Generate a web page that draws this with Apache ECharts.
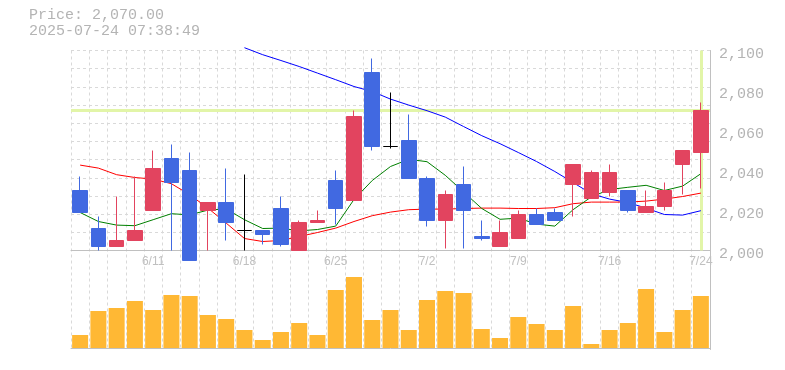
<!DOCTYPE html>
<html>
<head>
<meta charset="utf-8">
<script src="https://cdn.jsdelivr.net/npm/echarts@6/dist/echarts.min.js"></script>
<style>
html,body{margin:0;padding:0;background:#fff;}
#c{width:785px;height:370px;}
</style>
</head>
<body>
<div id="c"></div>
<script>
// ---- data ----
const dates = ['6/5','6/6','6/9','6/10','6/11','6/12','6/13','6/16','6/17','6/18','6/19','6/20','6/23','6/24','6/25','6/26','6/27','6/30',
  '7/1','7/2','7/3','7/4','7/7','7/8','7/9','7/10','7/11','7/14','7/15','7/16','7/17','7/18','7/22','7/23','7/24'];
const xTickLabels = ['6/11','6/18','6/25','7/2','7/9','7/16','7/24'];
const priceTicks = [2000, 2020, 2040, 2060, 2080, 2100];

const openP  = [2030,2011,2002,2005,2020,2046,2040,2020,2024,2010,2010,2021,2000,2014,2035,2025,2089,2052,2055,2036,2015,2033,2007,2002,2006,2018,2019,2033,2026,2029,2030,2019,2022,2043,2049];
const closeP = [2019,2002,2005,2010,2041,2034,1995,2024,2014,2010,2008,2003,2014,2015,2021,2067,2052,2052,2036,2015,2028,2020,2006,2009,2018,2013,2015,2043,2039,2039,2020,2022,2030,2050,2070];
const lowP   = [2019,2000,2002,2005,2020,2000,1995,2000,2005,2000,2003,2002,2000,2014,2013,2025,2050,2051,2036,2012,2001,2001,2005,2002,2006,2013,2015,2017,2026,2027,2019,2019,2020,2028,2031];
const highP  = [2037,2017,2027,2037,2050,2053,2049,2024,2041,2038,2010,2027,2015,2020,2040,2070,2096,2079,2068,2037,2030,2042,2015,2015,2020,2021,2021,2043,2040,2043,2030,2030,2034,2050,2074];

const maGreen = [2019.0,2014.5,2012.7,2012.4,2015.4,2018.4,2017.8,2020.2,2020.8,2015.4,2011.0,2011.2,2009.8,2010.5,2012.2,2025.5,2035.0,2042.0,2045.6,2044.4,
  2037.6,2029.3,2021.0,2015.6,2016.2,2013.2,2012.2,2020.4,2026.8,2030.5,2031.6,2032.6,2030.0,2032.2,2038.4];
const maRed = [2042.7,2041.2,2037.9,2036.5,2035.7,2033.4,2027.9,2021.2,2013.7,2006.0,2004.5,2005.0,2007.0,2009.0,2011.2,2014.5,2017.4,2019.2,2020.4,2020.7,
  2020.7,2021.0,2021.2,2021.2,2021.0,2021.0,2021.4,2023.4,2024.2,2024.2,2024.2,2024.7,2025.7,2027.0,2028.7];
const maBlue = [null,null,null,null,null,null,null,null,null,2101.4,2097.9,2095.0,2092.0,2088.7,2085.4,2082.0,2079.5,2075.7,2072.7,2069.9,
  2066.7,2062.0,2057.4,2053.4,2049.0,2044.5,2039.5,2034.0,2028.4,2025.7,2024.0,2021.2,2018.0,2017.7,2019.9];

const volume = [13000,37000,40000,47000,38000,53000,52000,33000,29000,18000,8000,16000,25000,13000,58000,71000,28000,38000,18000,48000,
  57000,55000,19000,10000,31000,24000,18000,42000,4000,18000,25000,59000,16000,38000,52000];

const lastPrice = 2070;
const lastDate = '7/24';

// ---- chart ----
const candleData = dates.map((d, i) => [openP[i], closeP[i], lowP[i], highP[i]]);
const UP = '#e2445f', DOWN = '#4169e1';
const dash = {type: [3, 3], color: '#d9d9d9', width: 1};
const L = 71, R = 75;

const chart = echarts.init(document.getElementById('c'), null, {renderer: 'canvas'});
chart.setOption({
  animation: false,
  backgroundColor: '#fff',
  title: {
    left: 29, top: 7, padding: 0,
    text: 'Price: 2,070.00\n2025-07-24 07:38:49',
    textStyle: {fontFamily: 'Liberation Mono', fontSize: 15, fontWeight: 'normal', color: '#b4b4b4', lineHeight: 16}
  },
  grid: [
    {left: L, right: R, top: 50.5, bottom: 20.5},
    {left: L, right: R, top: 50.5, height: 200},
    {left: L, right: R, top: 270, bottom: 20.5}
  ],
  xAxis: [
    {type: 'category', gridIndex: 0, data: dates, boundaryGap: true,
     axisLine: {show: false}, axisTick: {show: false}, axisLabel: {show: false},
     splitLine: {show: true, interval: 0, lineStyle: dash}},
    {type: 'category', gridIndex: 1, data: dates, boundaryGap: true,
     axisLine: {show: true, lineStyle: {color: '#c0c0c0', width: 1}}, axisTick: {show: false},
     axisLabel: {show: true, margin: 5, color: '#c0c0c0', fontFamily: 'Liberation Sans', fontSize: 12,
       interval: (i, v) => xTickLabels.includes(v)},
     splitLine: {show: false}},
    {type: 'category', gridIndex: 2, data: dates, boundaryGap: true,
     axisLine: {show: true, lineStyle: {color: '#c0c0c0', width: 1}}, axisTick: {show: false},
     axisLabel: {show: false}, splitLine: {show: false}}
  ],
  yAxis: [
    {type: 'value', gridIndex: 0, position: 'right', min: 0, max: 1,
     axisLine: {show: true, lineStyle: {color: '#c0c0c0', width: 1}}, axisTick: {show: false},
     axisLabel: {show: false}, splitLine: {show: false}},
    {type: 'value', gridIndex: 1, position: 'right',
     min: priceTicks[0], max: priceTicks[priceTicks.length - 1], interval: priceTicks[1] - priceTicks[0],
     axisLine: {show: false}, axisTick: {show: false}, splitLine: {show: false},
     axisLabel: {show: true, margin: 9, color: '#b4b4b4', fontFamily: 'Liberation Mono', fontSize: 15,
       verticalAlign: 'top', lineHeight: 8,
       formatter: v => v.toLocaleString('en-US')}},
    {type: 'value', gridIndex: 1, position: 'left', min: 0, max: 11, interval: 1,
     axisLine: {show: false}, axisTick: {show: false}, axisLabel: {show: false},
     splitLine: {show: true, lineStyle: dash}},
    {type: 'value', gridIndex: 2, min: -1500, max: 78000,
     axisLine: {show: false}, axisTick: {show: false}, axisLabel: {show: false}, splitLine: {show: false}}
  ],
  series: [
    {type: 'line', xAxisIndex: 1, yAxisIndex: 1, data: maBlue, clip: false, z: 2,
     symbol: 'none', lineStyle: {color: '#0000ff', width: 1}, silent: true,
     markLine: {
       z: 1, silent: true, symbol: 'none', label: {show: false},
       lineStyle: {color: '#e2f5a8', width: 3, type: 'solid'},
       emphasis: {disabled: true},
       data: [{yAxis: lastPrice}, {xAxis: lastDate}]
     }},
    {type: 'line', xAxisIndex: 1, yAxisIndex: 1, data: maRed, z: 2,
     symbol: 'none', lineStyle: {color: '#ff0000', width: 1}, silent: true},
    {type: 'line', xAxisIndex: 1, yAxisIndex: 1, data: maGreen, z: 2,
     symbol: 'none', lineStyle: {color: '#008000', width: 1}, silent: true},
    {type: 'candlestick', xAxisIndex: 1, yAxisIndex: 1, data: candleData, clip: false, z: 3,
     barWidth: 15,
     itemStyle: {color: UP, color0: DOWN, borderColor: UP, borderColor0: DOWN, borderColorDoji: '#000000', borderWidth: 1}},
    {type: 'bar', xAxisIndex: 2, yAxisIndex: 3, data: volume, barWidth: 16,
     itemStyle: {color: '#ffb834'}}
  ]
});
</script>
</body>
</html>
